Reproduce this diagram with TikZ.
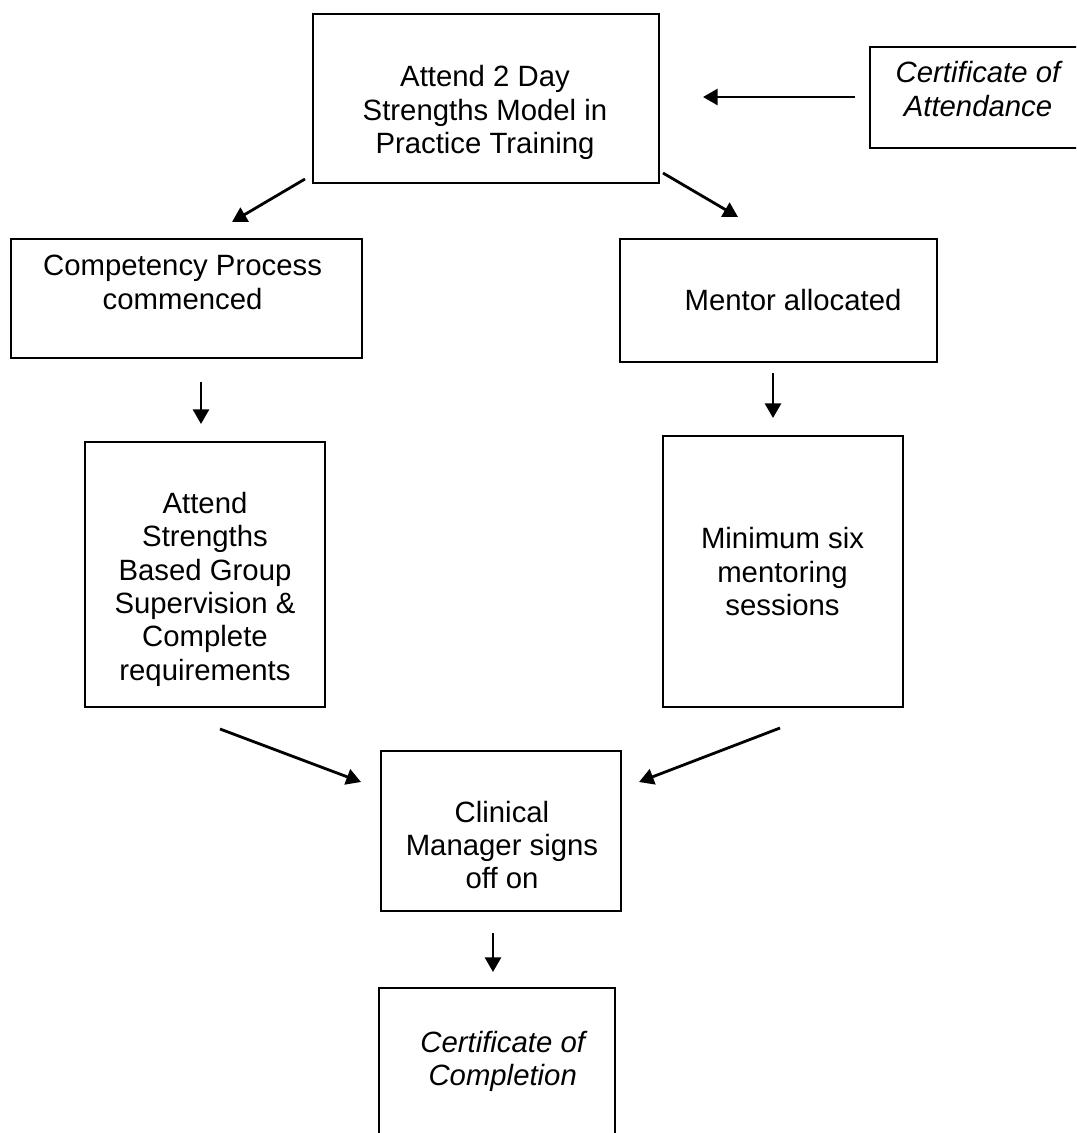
\documentclass[tikz,border=0pt]{standalone}
\usepackage{fontspec}
\setmainfont{Liberation Sans}
\usetikzlibrary{arrows.meta,fit}
\tikzset{
  box/.style={draw=black, line width=1.5pt, rectangle, inner sep=0pt, outer sep=0pt},
  txt/.style={align=center, inner sep=0pt, font=\fontsize{22}{25}\selectfont,
    execute at begin node=\strut, execute at end node=\strut},
  itxt/.style={txt, font=\fontsize{22}{25}\selectfont\itshape},
  arr/.style={line width=2.1pt, -{Triangle[length=11pt,width=12pt]}}
}
\begin{document}
\begin{tikzpicture}[x=0.75pt, y=-0.75pt]
\useasboundingbox (0,0) rectangle (1076,1133);
\begin{scope}
\clip (0,0) rectangle (1076,1133);
% boxes
\node[box, fit={(313,14) (659,183)}] (top) {};
\node[box, fit={(870,47) (1095,148)}] (att) {};
\node[box, fit={(11,239) (362,358)}] (comp) {};
\node[box, fit={(620,239) (937,362)}] (ment) {};
\node[box, fit={(85,442) (325,707)}] (str) {};
\node[box, fit={(663,436) (903,707)}] (mini) {};
\node[box, fit={(381,751) (621,911)}] (clin) {};
\node[box, fit={(379,988) (615,1160)}] (cert) {};
% texts
\node[txt] (topT) at (485,114.6) {Attend 2 Day\\Strengths Model in\\Practice Training};
\node[itxt] (attT) at (978,94) {Certificate of\\Attendance};
\node[txt] (compT) at (182.6,287.2) {Competency Process\\commenced};
\node[txt] (mentT) at (793,304.3) {Mentor allocated};
\node[txt] (strT) at (205,591.3) {Attend\\Strengths\\Based Group\\Supervision \&\\Complete\\requirements};
\node[txt] (miniT) at (782.5,576.6) {Minimum six\\mentoring\\sessions};
\node[txt] (clinT) at (502,849.7) {Clinical\\Manager signs\\off on};
\node[itxt] (certT) at (502.7,1063.3) {Certificate of\\Completion};
\end{scope}
% arrow end points
\coordinate (a0s) at (855,97);  \coordinate (a0e) at (703,97);
\coordinate (a1s) at (305,179); \coordinate (a1e) at (232,222);
\coordinate (a2s) at (663,173); \coordinate (a2e) at (738,217);
\coordinate (a3s) at (201,382); \coordinate (a3e) at (201,424);
\coordinate (a4s) at (773,373); \coordinate (a4e) at (773,418);
\coordinate (a5s) at (220,729); \coordinate (a5e) at (361,782);
\coordinate (a6s) at (780,728); \coordinate (a6e) at (639,782);
\coordinate (a7s) at (493,933); \coordinate (a7e) at (493,972);
\draw[arr] (a0s) -- (a0e);
\draw[arr] (a1s) -- (a1e);
\draw[arr] (a2s) -- (a2e);
\draw[arr] (a3s) -- (a3e);
\draw[arr] (a4s) -- (a4e);
\draw[arr] (a5s) -- (a5e);
\draw[arr] (a6s) -- (a6e);
\draw[arr] (a7s) -- (a7e);
\end{tikzpicture}
\end{document}
